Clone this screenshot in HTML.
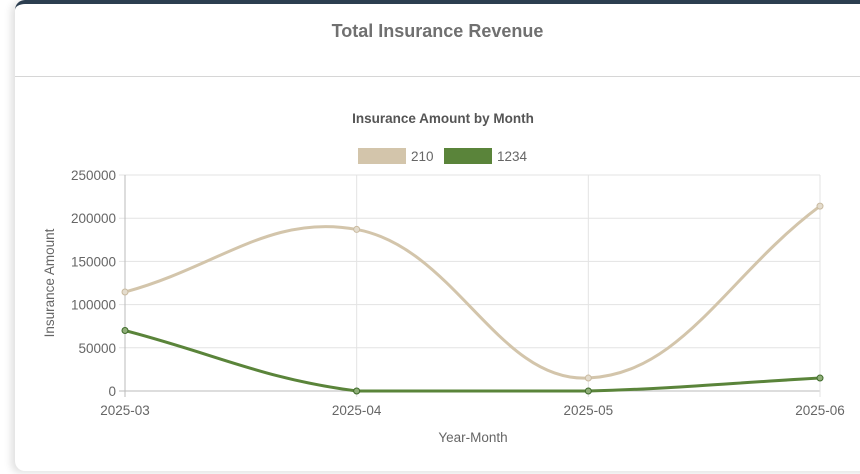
<!DOCTYPE html>
<html><head><meta charset="utf-8"><style>
body{margin:0;width:860px;height:474px;background:#fff;overflow:hidden;font-family:"Liberation Sans",sans-serif;position:relative}
#card{position:absolute;left:15px;top:0;width:870px;height:471px;background:#fff;border-top:4px solid #2c3e50;border-radius:10px;box-shadow:-4px 2px 8px rgba(0,0,0,0.12);box-sizing:border-box}
#title{position:absolute;left:0;top:21px;width:875px;text-align:center;font-size:18px;font-weight:bold;color:#707070}
#sep{position:absolute;left:15px;top:76px;width:845px;height:1px;background:#d6d6d6}
svg{position:absolute;left:0;top:0}
</style></head><body>
<div id="card"></div>
<div id="title">Total Insurance Revenue</div>
<div id="sep"></div>
<svg id="chart" width="860" height="474"></svg>
<script>
const categories=["2025-03","2025-04","2025-05","2025-06"];
const seriesNames=["210","1234"];
const series210=[114600,187000,15000,214000];
const series1234=[70000,0,0,15000];
const yTicks=[0,50000,100000,150000,200000,250000];
const colors=["#d3c5ab","#5a843a"];
const L=125,R=820,T=175,B=391,yMax=250000;
const x=i=>L+(R-L)*i/(categories.length-1);
const y=v=>B-(B-T)*v/yMax;
const svg=document.getElementById('chart');
const NS="http://www.w3.org/2000/svg";
function mk(t,a,txt){const e=document.createElementNS(NS,t);for(const k in a)e.setAttribute(k,a[k]);if(txt!==undefined)e.textContent=txt;svg.appendChild(e);return e;}
let e;
e=mk('text',{x:443,y:123,'text-anchor':'middle','font-size':13.5,'font-weight':'bold',fill:'#555'},'Insurance Amount by Month');


const lx=[358,444];
seriesNames.forEach((n,i)=>{
 let r=mk('rect',{x:lx[i],y:148,width:48,height:16,fill:colors[i]});
 
 
 let t=mk('text',{x:lx[i]+53,y:161,'font-size':13.5,fill:'#666'},n);
 
 
});
yTicks.forEach(v=>{
 let g=mk('line',{x1:L-6,x2:R,y1:y(v),y2:y(v),stroke:v===0?'#bbb':'#e3e3e3'});
 
 
 let t=mk('text',{x:L-9,y:y(v)+5,'text-anchor':'end','font-size':13.5,fill:'#666'},String(v));
 
 
});
categories.forEach((c,i)=>{
 let g=mk('line',{x1:x(i),x2:x(i),y1:T,y2:B+6,stroke:i===0?'#bbb':'#e3e3e3'});
 
 
 let t=mk('text',{x:x(i),y:B+24,'text-anchor':'middle','font-size':13.5,fill:'#666'},c);
 
 
});
e=mk('text',{x:473,y:442,'text-anchor':'middle','font-size':13.5,fill:'#666'},'Year-Month');


e=mk('text',{x:0,y:0,'text-anchor':'middle','font-size':13.5,fill:'#666',transform:'translate(54,283) rotate(-90)'},'Insurance Amount');


function path(vals){
 const p=vals.map((v,i)=>[x(i),y(v)]);const t=0.4;
 const cl=(a,lo,hi)=>Math.max(lo,Math.min(hi,a));
 let d='M'+p[0][0]+','+p[0][1];
 const cps=p.map((c,i)=>{
  const pr=p[Math.max(0,i-1)],nx=p[Math.min(p.length-1,i+1)];
  const d01=Math.hypot(c[0]-pr[0],c[1]-pr[1]),d12=Math.hypot(nx[0]-c[0],nx[1]-c[1]);
  let fa=d01/(d01+d12||1),fb=d12/(d01+d12||1);fa=isNaN(fa)?0:fa*t;fb=isNaN(fb)?0:fb*t;
  return {p:[cl(c[0]-fa*(nx[0]-pr[0]),L,R),cl(c[1]-fa*(nx[1]-pr[1]),T,B)],n:[cl(c[0]+fb*(nx[0]-pr[0]),L,R),cl(c[1]+fb*(nx[1]-pr[1]),T,B)]};
 });
 for(let i=1;i<p.length;i++)d+=' C'+cps[i-1].n+' '+cps[i].p+' '+p[i];
 return d;
}
[series210,series1234].forEach((vals,s)=>{
 let l=mk('path',{d:path(vals),fill:'none',stroke:colors[s],'stroke-width':3});
 
 
 vals.forEach((v,i)=>{
  let c=mk('circle',{cx:x(i),cy:y(v),r:3,fill:s?'#8fae78':'#e4dccd',stroke:s?'#3e6a2a':'#c9baa0','stroke-width':1});
  
  
 });
});
</script>
</body></html>
